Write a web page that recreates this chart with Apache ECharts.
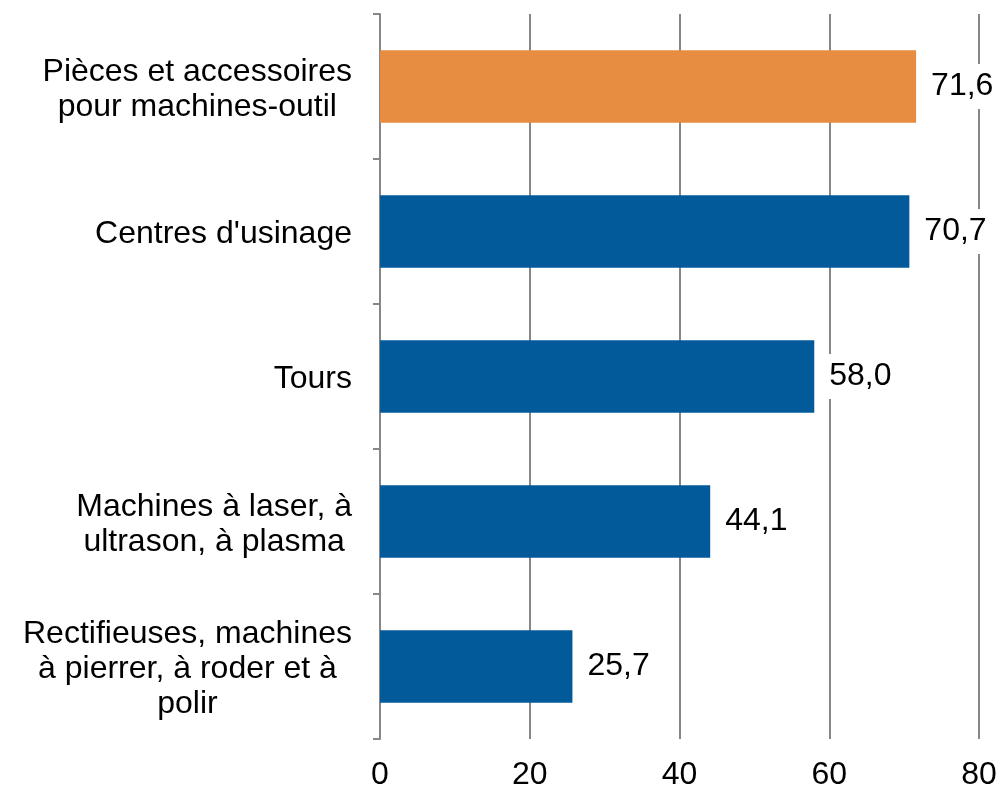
<!DOCTYPE html>
<html>
<head>
<meta charset="utf-8">
<script src="https://cdn.jsdelivr.net/npm/echarts@6/dist/echarts.min.js"></script>
<style>
  html, body { margin: 0; padding: 0; background: #fff; }
  #chart { width: 1000px; height: 791px; }
</style>
</head>
<body>
<div id="chart"></div>
<script>
const categories = [
  "Pièces et accessoires\npour machines-outil",
  "Centres d'usinage",
  "Tours",
  "Machines à laser, à\nultrason, à plasma",
  "Rectifieuses, machines\nà pierrer, à roder et à\npolir"
];
const values = [71.6, 70.7, 58.0, 44.1, 25.7];
const highlightIndex = [0];
const xTicks = [0, 20, 40, 60, 80];

const BLUE = '#035A9B';
const ORANGE = '#E68D42';
const GRAY = '#878787';
const FONT = '"Liberation Sans", Arial, sans-serif';

const chart = echarts.init(document.getElementById('chart'), null, { renderer: 'canvas' });
chart.setOption({
  animation: false,
  backgroundColor: '#ffffff',
  grid: { left: 380, right: 21, top: 14, bottom: 51, containLabel: false },
  xAxis: {
    type: 'value',
    min: xTicks[0],
    max: xTicks[xTicks.length - 1],
    interval: 20,
    axisLine: { show: false },
    axisTick: { show: false },
    splitLine: { show: true, lineStyle: { color: GRAY, width: 2 } },
    axisLabel: { color: '#000', fontFamily: FONT, fontSize: 32, margin: 20 }
  },
  yAxis: {
    type: 'category',
    data: categories,
    inverse: true,
    axisLine: { show: true, lineStyle: { color: GRAY, width: 2 } },
    axisTick: { show: true, length: 7, lineStyle: { color: GRAY, width: 2 } },
    axisLabel: {
      margin: 28,
      align: 'right',
      padding: [6, 0, 0, 0],
      formatter: function (v) {
        return v.split('\n').map(l => '{c|' + l + '}').join('\n');
      },
      rich: {
        c: { align: 'center', color: '#000', fontFamily: FONT, fontSize: 32, lineHeight: 35 }
      }
    }
  },
  series: [{
    type: 'bar',
    data: values.map((v, i) => ({
      value: v,
      itemStyle: { color: highlightIndex.includes(i) ? ORANGE : BLUE }
    })),
    barWidth: '50%',
    label: {
      show: true,
      position: 'right',
      distance: 7,
      color: '#000',
      fontFamily: FONT,
      fontSize: 32,
      lineHeight: 33,
      backgroundColor: '#ffffff',
      padding: [9, 8, 3, 8],
      formatter: p => p.value.toFixed(1).replace('.', ',')
    }
  }]
});
</script>
</body>
</html>
